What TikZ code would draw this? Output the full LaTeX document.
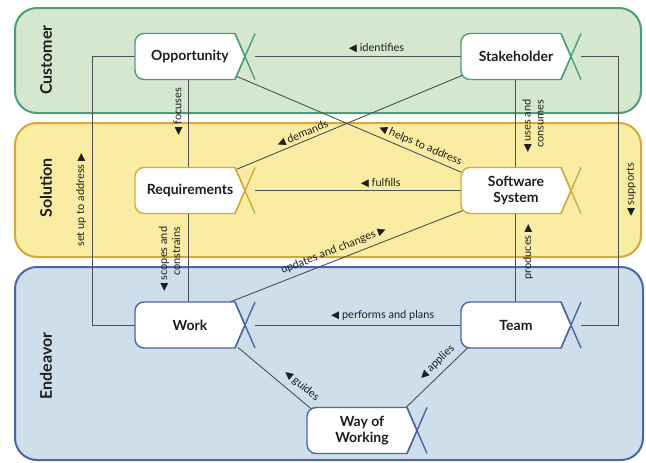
\documentclass[tikz,border=0pt]{standalone}
\usepackage{fontspec}
\setmainfont{Lato}
\newfontfamily\trifont{DejaVu Sans}
\usetikzlibrary{calc}

\definecolor{custfill}{HTML}{D6E7CF}
\definecolor{custline}{HTML}{4C9E78}
\definecolor{solfill}{HTML}{FAEDA3}
\definecolor{solline}{HTML}{D6A838}
\definecolor{endfill}{HTML}{CEDEEA}
\definecolor{endline}{HTML}{4A66A8}
\definecolor{linkgray}{HTML}{4A5056}
\definecolor{txtgray}{HTML}{1E1E1E}

\pgfdeclarelayer{bands}
\pgfdeclarelayer{links}
\pgfsetlayers{bands,links,main}

% small arrow heads used inside the relation labels
\newcommand{\tril}{{\trifont\fontsize{10.5}{10}\selectfont ◀}}
\newcommand{\trir}{{\trifont\fontsize{10.5}{10}\selectfont ▶}}

\tikzset{
  band/.style={line width=2pt, rounded corners=22pt},
  link/.style={draw=linkgray, line width=0.9pt},
  lbl/.style={font=\fontsize{11}{13}\selectfont, text=txtgray, inner sep=1pt},
  alphatext/.style={font=\bfseries\fontsize{14}{16.5}\selectfont, align=center, text=txtgray},
  bandtext/.style={font=\bfseries\fontsize{16}{18}\selectfont, rotate=90, text=txtgray},
  alphabox/.style={minimum width=120pt, minimum height=46pt, inner sep=0pt, outer sep=0pt},
}

% alpha symbol: #1 name, #2 left x, #3 middle y, #4 colour, #5 text
\newcommand{\alphanode}[5]{%
  \node[alphabox] (#1) at (#2+60,#3) {};
  \begin{scope}[shift={(#2,#3)}]
    \draw[fill=white, draw=#4, line width=1.4pt, line join=round]
      (110,0) -- (100,-23) -- (9,-23)
      arc[start angle=-90, end angle=-180, radius=9] -- (0,14)
      arc[start angle=180, end angle=90, radius=9] -- (100,23) -- cycle;
    \draw[draw=#4, line width=1.4pt] (100,-23) -- (120,23) (100,23) -- (120,-23);
  \end{scope}
  \node[alphatext] (#1-text) at (#2+55,#3) {#5};
}

\begin{document}
\begin{tikzpicture}[x=1pt, y=-1pt]
\useasboundingbox (0,0) rectangle (646,463);

% areas of concern
\begin{pgfonlayer}{bands}
  \draw[band, fill=custfill, draw=custline] (15,8) rectangle (641,113);
  \draw[band, fill=solfill, draw=solline] (15,123) rectangle (641,257);
  \draw[band, fill=endfill, draw=endline] (15,267) rectangle (643,460);
\end{pgfonlayer}
\node[bandtext] (customer) at (46,60) {Customer};
\node[bandtext] (solution) at (46,188) {Solution};
\node[bandtext] (endeavor) at (46,366) {Endeavor};

% kernel alphas
\alphanode{opp}{135}{56.5}{custline}{Opportunity}
\alphanode{stk}{461}{56.5}{custline}{Stakeholder}
\alphanode{req}{135}{190.5}{solline}{Requirements}
\alphanode{sw}{461}{190.5}{solline}{Software\\System}
\alphanode{work}{135}{325}{endline}{Work}
\alphanode{team}{461}{325}{endline}{Team}
\alphanode{wow}{307}{430.5}{endline}{Way of\\Working}

\coordinate (lt) at (92,56.5);
\coordinate (rt) at (618,56.5);

% relationships
\begin{pgfonlayer}{links}
  \draw[link] (opp.west) -- (lt) |- (work.west);
  \draw[link] (stk.east) -- (rt) |- (team.east);
  \draw[link] (opp.east) -- node[lbl, pos=0.59, above=2.5pt] {\tril\ identifies} (stk.west);
  \draw[link] ([xshift=-7pt]opp.south) -- ([xshift=-7pt]req.north);
  \draw[link] ([xshift=-7pt]req.south) -- ([xshift=-7pt]work.north);
  \draw[link] ([xshift=-6pt]stk.south) -- ([xshift=-6pt]sw.north);
  \draw[link] ([xshift=-6pt]sw.south) -- ([xshift=-6pt]team.north);
  \draw[link] (req.east) -- node[lbl, pos=0.61, above=1pt] {\tril\ fulfills} (sw.west);
  \draw[link] (work.east) -- node[lbl, pos=0.62, above=3.5pt] {\tril\ performs and plans} (team.west);
  \draw[link] ($(req.north east)+(-20,2.5)$) --
    node[lbl, sloped, pos=0.31, above=1pt] {\tril\ demands} ($(stk.south west)+(1,-4)$);
  \draw[link] ($(opp.south east)+(-18,-3)$) --
    node[lbl, sloped, pos=0.80, above=2.5pt] {\tril\ helps to address} ($(sw.north west)+(1,5)$);
  \draw[link] ($(work.north east)+(-25,0)$) --
    node[lbl, sloped, pos=0.46, above=3.5pt] {updates and changes \trir} ($(sw.south west)+(2,-3)$);
  \draw[link] ($(work.south east)+(-17,-0.5)$) --
    node[lbl, sloped, pos=0.76, above=5pt] {\tril\ guides} ($(wow.north west)+(5,2)$);
  \draw[link] ($(wow.north west)+(99,0)$) --
    node[lbl, sloped, pos=0.62, above=4.5pt] {\tril\ applies} ($(team.south west)+(7,-0.5)$);
\end{pgfonlayer}

% labels of the vertical relationships
\node[lbl, rotate=90] (l-setup) at (81,200) {set up to address \trir};
\node[lbl, rotate=90] (l-focuses) at (178,111.5) {\tril\ focuses};
\node[lbl, rotate=90, align=right] (l-scopes) at (169.5,259) {\tril\ scopes and\\constrains};
\node[lbl, rotate=90, align=right] (l-uses) at (533,126) {\tril\ uses and\\consumes};
\node[lbl, rotate=90] (l-produces) at (528,252) {produces \trir};
\node[lbl, rotate=90] (l-supports) at (631,189.5) {\tril\ supports};
\end{tikzpicture}
\end{document}
